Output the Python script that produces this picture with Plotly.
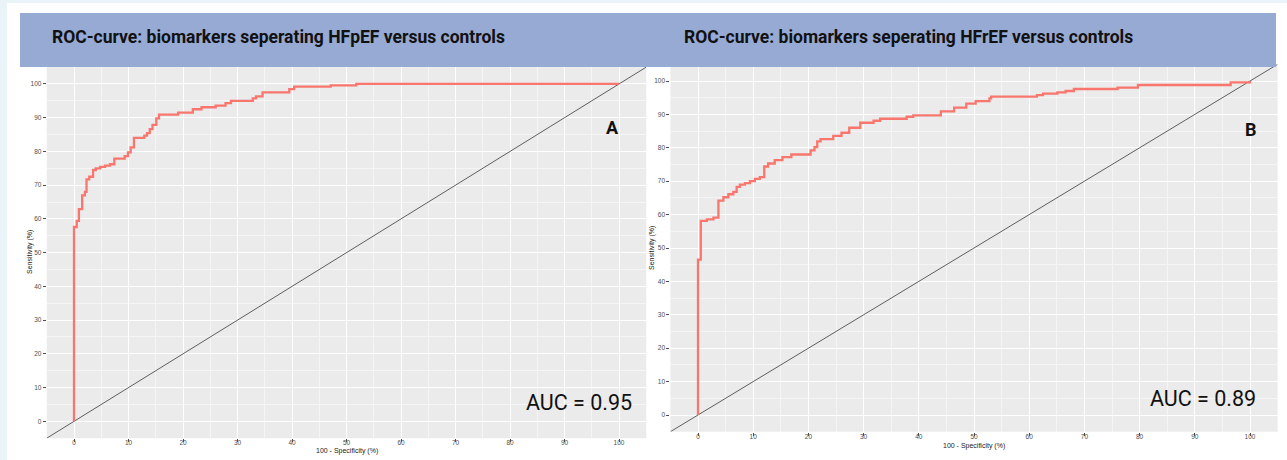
import plotly.graph_objects as go

W, H = 1287, 460

# ---- data ----
left_fpr = [0, 0, 0.5, 0.9, 1.5, 2.0, 2.3, 2.8, 3.5, 4.0, 4.8, 5.7, 6.6, 7.4, 9.3, 9.9, 10.4, 11.0, 12.9, 13.4,
            13.9, 14.4, 15.1, 15.6, 19.1, 21.8, 23.4, 26.0, 27.8, 28.8, 32.8, 33.4, 34.6, 39.5, 40.4, 47.1, 51.8, 100]
left_tpr = [0, 57.6, 59.4, 62.9, 67.0, 68.0, 71.7, 72.5, 74.5, 75.0, 75.4, 75.8, 76.2, 77.9, 78.6, 79.7, 81.2, 84.0, 84.7, 85.4,
            86.6, 87.9, 89.8, 90.9, 91.5, 92.5, 93.1, 93.6, 94.3, 95.0, 95.7, 96.3, 97.5, 98.5, 99.2, 99.6, 100, 100]

right_fpr = [0, 0, 0.5, 1.6, 2.8, 3.7, 4.6, 5.5, 6.4, 7.0, 7.6, 8.5, 9.4, 10.3, 11.2, 12.0, 12.7, 13.9, 15.3, 16.9,
             20.4, 21.1, 21.6, 22.2, 24.5, 26.0, 27.4, 29.4, 31.8, 33.0, 37.8, 39.0, 44.0, 46.4, 48.6, 50.3, 52.8, 53.1,
             61.4, 62.5, 65.1, 66.6, 68.1, 76.0, 79.7, 96.5, 100]
right_tpr = [0, 46.5, 58.1, 58.6, 59.1, 64.2, 65.2, 66.1, 66.8, 68.3, 69.0, 69.4, 70.0, 70.7, 71.2, 74.4, 75.3, 76.3, 77.2, 78.0,
             79.2, 80.2, 81.9, 82.6, 83.6, 84.5, 86.0, 87.5, 88.1, 88.7, 89.3, 89.7, 90.9, 92.0, 93.2, 94.0, 94.8, 95.3,
             95.8, 96.2, 96.6, 97.0, 97.6, 98.0, 98.8, 99.6, 100]

diag = [-5, 105]
tick_vals = [0, 10, 20, 30, 40, 50, 60, 70, 80, 90, 100]
tick_text = [str(v) for v in tick_vals]

titles = ["ROC-curve: biomarkers seperating HFpEF versus controls",
          "ROC-curve: biomarkers seperating HFrEF versus controls"]
letters = ["A", "B"]
auc_labels = ["AUC = 0.95", "AUC = 0.89"]
x_title = "100 - Specificity (%)"
y_title = "Sensitivity (%)"

# ---- layout helpers ----
def px(x):
    return x / W

def py(y):
    return 1 - y / H

CURVE = "#F8766D"
PANEL = "#EBEBEB"
TICKFONT = dict(family="Liberation Sans, Arial", size=6.5, color="#4d4d4d")

fig = go.Figure()

# diagonal + curves
fig.add_trace(go.Scatter(x=diag, y=diag, mode="lines", line=dict(color="#3a3a3a", width=0.8),
                         xaxis="x", yaxis="y", showlegend=False, hoverinfo="skip"))
fig.add_trace(go.Scatter(x=left_fpr, y=left_tpr, mode="lines", line=dict(color=CURVE, width=2.3, shape="hv"),
                         xaxis="x", yaxis="y", showlegend=False))
fig.add_trace(go.Scatter(x=diag, y=diag, mode="lines", line=dict(color="#3a3a3a", width=0.8),
                         xaxis="x2", yaxis="y2", showlegend=False, hoverinfo="skip"))
fig.add_trace(go.Scatter(x=right_fpr, y=right_tpr, mode="lines", line=dict(color=CURVE, width=2.3, shape="hv"),
                         xaxis="x2", yaxis="y2", showlegend=False))

def axis(domain, anchor, standoff):
    return dict(
        domain=domain, anchor=anchor, range=[-5, 105], tickmode="array",
        tickvals=tick_vals, ticktext=tick_text, ticks="outside", ticklen=3, tickwidth=0.6,
        tickcolor="#4d4d4d", tickfont=TICKFONT, ticklabelstandoff=standoff,
        showgrid=True, gridcolor="white", gridwidth=1.1, zeroline=False, showline=False,
        minor=dict(tickvals=[-5, 5, 15, 25, 35, 45, 55, 65, 75, 85, 95, 105], showgrid=True,
                   gridcolor="#F5F5F5", gridwidth=0.6, ticks=""),
        fixedrange=True,
    )

# panel geometry (pixels)
L = dict(x0=46.75, x1=646.25, y0=67.1, y1=438.2)
R = dict(x0=670.4, x1=1277.6, y0=64.3, y1=431.7)

fig.update_layout(
    width=W, height=H, margin=dict(l=0, r=0, t=0, b=0),
    paper_bgcolor="white", plot_bgcolor=PANEL,
    xaxis=axis([px(L["x0"]), px(L["x1"])], "y", -5),
    yaxis=axis([py(L["y1"]), py(L["y0"])], "x", 0),
    xaxis2=axis([px(R["x0"]), px(R["x1"])], "y2", -5),
    yaxis2=axis([py(R["y1"]), py(R["y0"])], "x2", 0),
)

shapes = [
    # light page edges
    dict(type="rect", xref="paper", yref="paper", x0=0, x1=px(7), y0=0, y1=1,
         fillcolor="#EAF4F8", line=dict(width=0), layer="above"),
    dict(type="rect", xref="paper", yref="paper", x0=0, x1=1, y0=py(3), y1=1,
         fillcolor="#EAF4F8", line=dict(width=0), layer="above"),
    # header band
    dict(type="rect", xref="paper", yref="paper", x0=px(20), x1=px(1276), y0=py(67), y1=py(13),
         fillcolor="#97AAD4", line=dict(width=0), layer="above"),
]
fig.update_layout(shapes=shapes)

ann = []
for i, (tx, lx, ly) in enumerate([(50, 612, 128), (682, 1251, 130)]):
    ann.append(dict(text="<b>" + titles[i] + "</b>", x=px(tx), y=py(37), xref="paper", yref="paper",
                    xanchor="left", yanchor="middle", showarrow=False,
                    font=dict(family="Roboto", size=17.5, color="#111111")))
    ann.append(dict(text="<b>" + letters[i] + "</b>", x=px(lx), y=py(ly), xref="paper", yref="paper",
                    xanchor="center", yanchor="middle", showarrow=False,
                    font=dict(family="Roboto", size=18, color="#111111")))

ann.append(dict(text=auc_labels[0], x=px(634), y=py(402), xref="paper", yref="paper", xanchor="right",
                yanchor="middle", showarrow=False, font=dict(family="Roboto", size=21.5, color="#111111")))
ann.append(dict(text=auc_labels[1], x=px(1258), y=py(398), xref="paper", yref="paper", xanchor="right",
                yanchor="middle", showarrow=False, font=dict(family="Roboto", size=21.5, color="#111111")))

# axis titles
ann.append(dict(text=x_title, x=px(347), y=py(451), xref="paper", yref="paper", xanchor="center",
                yanchor="middle", showarrow=False, font=dict(family="Liberation Sans, Arial", size=7, color="#222")))
ann.append(dict(text=x_title, x=px(974), y=py(446), xref="paper", yref="paper", xanchor="center",
                yanchor="middle", showarrow=False, font=dict(family="Liberation Sans, Arial", size=7, color="#222")))
ann.append(dict(text=y_title, x=px(30), y=py(252), xref="paper", yref="paper", xanchor="center",
                yanchor="middle", textangle=-90, showarrow=False,
                font=dict(family="Liberation Sans, Arial", size=7, color="#222")))
ann.append(dict(text=y_title, x=px(652), y=py(248), xref="paper", yref="paper", xanchor="center",
                yanchor="middle", textangle=-90, showarrow=False,
                font=dict(family="Liberation Sans, Arial", size=7, color="#222")))

fig.update_layout(annotations=ann)
fig.write_html("out.html", config={"displayModeBar": False},
               post_script="document.body.style.margin='0';document.body.style.overflow='hidden';")
